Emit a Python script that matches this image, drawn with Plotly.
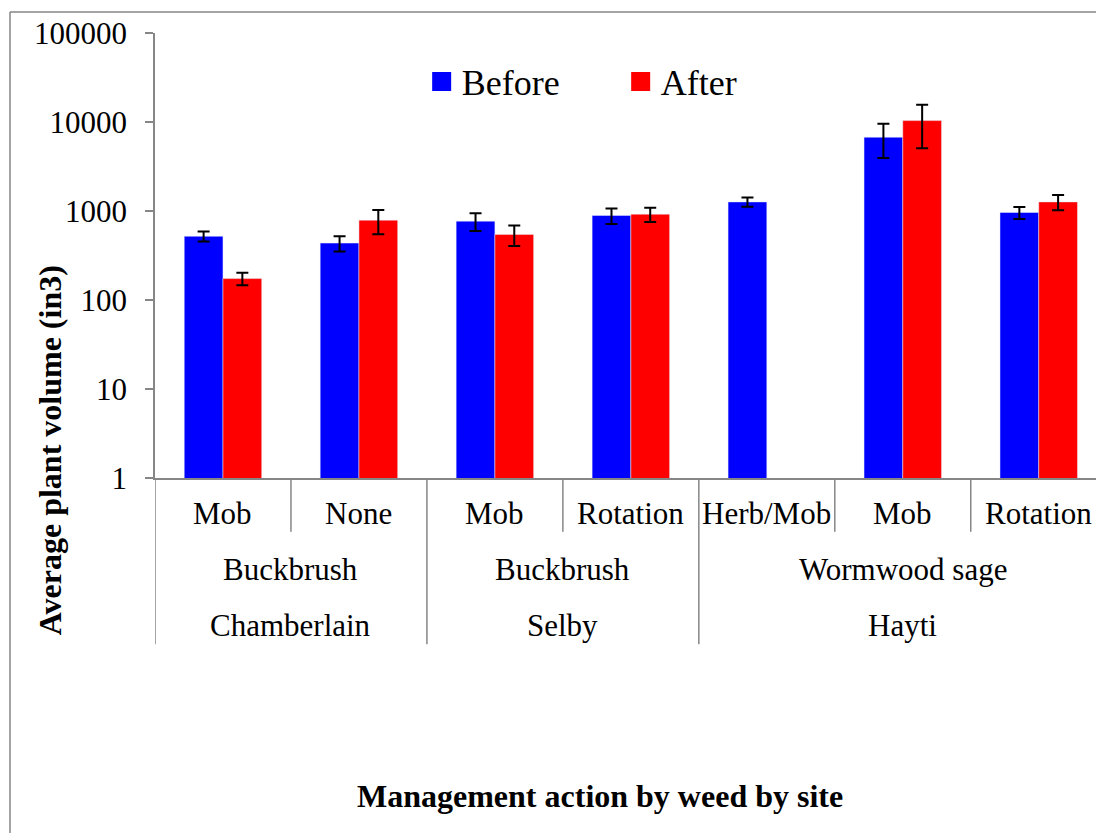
import plotly.graph_objects as go

# three-level category axis: action / weed / site
sites = ["Chamberlain", "Chamberlain", "Selby", "Selby", "Hayti", "Hayti", "Hayti"]
weeds = ["Buckbrush", "Buckbrush", "Buckbrush", "Buckbrush",
         "Wormwood sage", "Wormwood sage", "Wormwood sage"]
actions = ["Mob", "None", "Mob", "Rotation", "Herb/Mob", "Mob", "Rotation"]

before = [520, 436, 769, 891, 1265, 6745, 962]
before_err = [67, 85, 172, 175, 150, 2800, 150]
after = [174, 789, 546, 921, None, 10370, 1265]
after_err = [28, 240, 141, 170, 0, 5300, 245]

y_ticks = [1, 10, 100, 1000, 10000, 100000]

keys = [f"{s} | {w} | {a}" for s, w, a in zip(sites, weeds, actions)]

FONT = "Liberation Serif, Times New Roman, serif"
GRAY = "#868686"
BLUE, RED = "#0000ff", "#ff0000"

fig = go.Figure()
fig.add_trace(go.Bar(
    x=keys, y=before, name="Before", marker_color=BLUE, showlegend=False,
    error_y=dict(type="data", array=before_err, color="black", thickness=2, width=6),
))
fig.add_trace(go.Bar(
    x=keys, y=after, name="After", marker_color=RED, showlegend=False,
    error_y=dict(type="data", array=after_err, color="black", thickness=2, width=6),
))
# legend-only entries so the swatches can be bigger than plotly's bar icons
for name, col in [("Before", BLUE), ("After", RED)]:
    fig.add_trace(go.Scatter(
        x=[None], y=[None], name=name, mode="markers",
        marker=dict(symbol="square", size=16, color=col, line=dict(color=col, width=3)),
    ))

# label positions (paper units below the plot)
y_lvl1, y_lvl2, y_lvl3 = -0.0805, -0.2058, -0.3311


def label(x, y, text, xref="x", **kw):
    return dict(x=x, y=y, xref=xref, yref="paper", text=text, showarrow=False,
                xanchor="center", yanchor="middle",
                font=dict(family=FONT, size=kw.pop("size", 31), color="black"), **kw)


def spans(labels):
    out = []
    start = 0
    for i in range(1, len(labels) + 1):
        if i == len(labels) or labels[i] != labels[start] or sites[i] != sites[start]:
            out.append((start, i - 1, labels[start]))
            start = i
    return out


annotations = [label(i, y_lvl1, a) for i, a in enumerate(actions)]
annotations += [label((lo + hi) / 2, y_lvl2, w) for lo, hi, w in spans(weeds)]
annotations += [label((lo + hi) / 2, y_lvl3, s) for lo, hi, s in spans(sites)]
annotations.append(label(-0.1106, 0.0626, "<b>Average plant volume (in3)</b>",
                         xref="paper", size=32, textangle=-90))
annotations.append(label(0.469, -0.7136, "<b>Management action by weed by site</b>",
                         xref="paper", size=32))

shapes = []
group_edges = [lo - 0.5 for lo, hi, s in spans(sites)]
for i in range(len(actions) - 1):
    b = i + 0.5
    if b in group_edges:
        continue
    shapes.append(dict(type="line", xref="x", yref="paper", x0=b, x1=b, y0=0, y1=-0.1208,
                       line=dict(color=GRAY, width=1.5)))
for b in group_edges:
    shapes.append(dict(type="line", xref="x", yref="paper", x0=b, x1=b, y0=0, y1=-0.3736,
                       line=dict(color=GRAY, width=1.5)))

# outer chart border (clipped on right and bottom like the original)
shapes.append(dict(type="line", xref="paper", yref="paper", x0=-0.1528, x1=1.02,
                   y0=1.047, y1=1.047, line=dict(color=GRAY, width=1.5)))
shapes.append(dict(type="line", xref="paper", yref="paper", x0=-0.1528, x1=-0.1528,
                   y0=1.047, y1=-0.9, line=dict(color=GRAY, width=1.5)))

# page body has an 8px margin, so offset the plot area to land where the original is
fig.update_layout(
    width=1104, height=833,
    margin=dict(l=147, r=8, t=23, b=363),
    plot_bgcolor="white", paper_bgcolor="white",
    barmode="group", bargap=0.43, bargroupgap=0,
    font=dict(family=FONT, size=31, color="black"),
    legend=dict(orientation="h", x=0.281, y=0.891, xanchor="left", yanchor="middle",
                font=dict(family=FONT, size=36, color="black"), itemsizing="trace",
                bgcolor="rgba(0,0,0,0)", entrywidth=154, entrywidthmode="pixels"),
    annotations=annotations,
    shapes=shapes,
)
fig.update_xaxes(range=[-0.5, 6.48], showticklabels=False, ticks="", showline=True,
                 linecolor=GRAY, linewidth=1.5, showgrid=False, zeroline=False)
fig.update_yaxes(type="log", range=[0, 5], tickvals=y_ticks,
                 ticktext=[str(v) for v in y_ticks], ticks="outside", ticklen=8,
                 tickcolor=GRAY, tickwidth=1.5, showline=True, linecolor=GRAY, linewidth=1.5,
                 showgrid=False, zeroline=False, ticklabelstandoff=12,
                 tickfont=dict(family=FONT, size=31, color="black"))

fig.write_html("out.html")
